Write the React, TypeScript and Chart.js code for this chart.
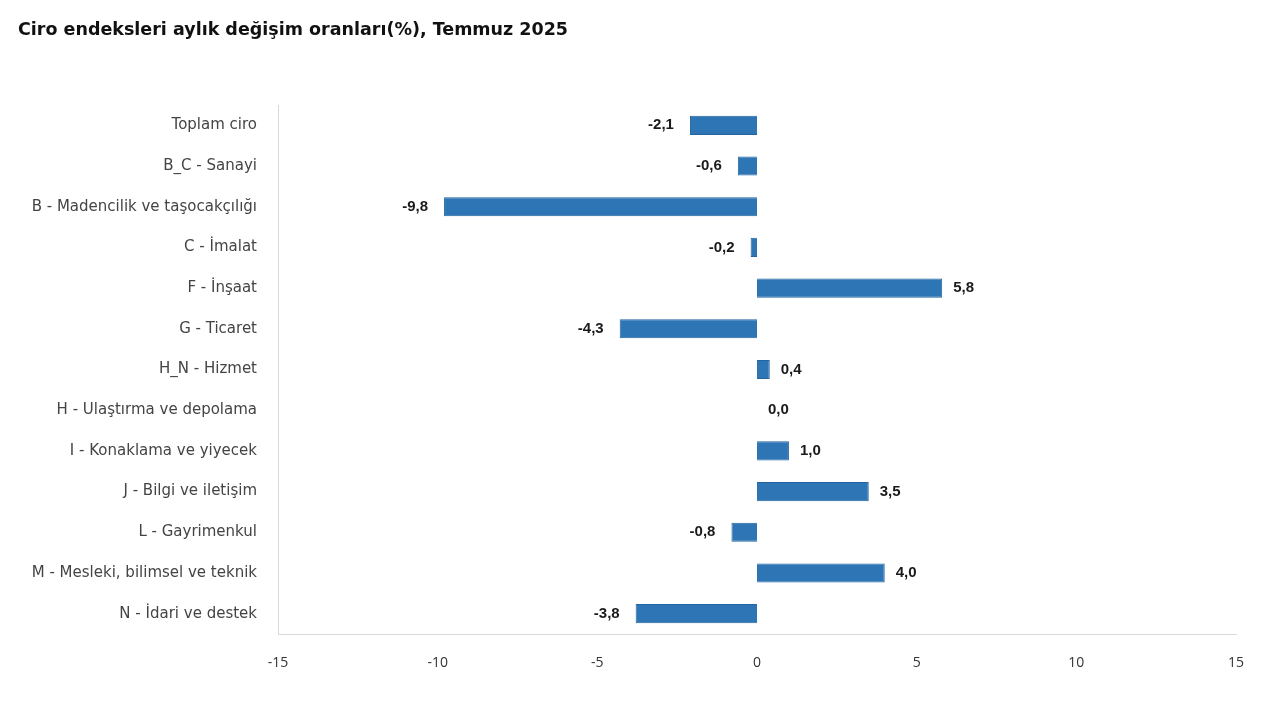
import React, { useEffect, useRef } from "react";
import { Chart, registerables } from "chart.js";

Chart.register(...registerables);

const TITLE = "Ciro endeksleri aylık değişim oranları(%), Temmuz 2025";

const categories = [
  "Toplam ciro",
  "B_C - Sanayi",
  "B - Madencilik ve taşocakçılığı",
  "C - İmalat",
  "F - İnşaat",
  "G - Ticaret",
  "H_N - Hizmet",
  "H - Ulaştırma ve depolama",
  "I - Konaklama ve yiyecek",
  "J - Bilgi ve iletişim",
  "L - Gayrimenkul",
  "M - Mesleki, bilimsel ve teknik",
  "N - İdari ve destek",
];

const values = [-2.1, -0.6, -9.8, -0.2, 5.8, -4.3, 0.4, 0.0, 1.0, 3.5, -0.8, 4.0, -3.8];

const xMin = -15;
const xMax = 15;
const xStep = 5;

const fmt = (v: number) => v.toFixed(1).replace(".", ",");

const valueLabels = {
  id: "valueLabels",
  afterDatasetsDraw(chart: any) {
    const ctx = chart.ctx;
    const meta = chart.getDatasetMeta(0);
    ctx.save();
    ctx.font = "bold 15px 'Liberation Sans', Arial, sans-serif";
    ctx.fillStyle = "#1a1a1a";
    ctx.textBaseline = "middle";
    meta.data.forEach((bar: any, i: number) => {
      const v = values[i];
      const xEnd = bar.x;
      if (v < 0) {
        ctx.textAlign = "right";
        ctx.fillText(fmt(v), xEnd - 16, bar.y);
      } else {
        ctx.textAlign = "left";
        ctx.fillText(fmt(v), xEnd + 11, bar.y);
      }
    });
    ctx.restore();
  },
};

export default function App() {
  const ref = useRef<HTMLCanvasElement | null>(null);
  useEffect(() => {
    if (!ref.current) return;
    const chart = new Chart(ref.current, {
      type: "bar",
      data: {
        labels: categories,
        datasets: [
          {
            data: values,
            backgroundColor: "#2E75B6",
            borderColor: "#23649F",
            borderWidth: 1,
            barPercentage: 0.47,
            categoryPercentage: 1,
          },
        ],
      },
      options: {
        indexAxis: "y",
        animation: false,
        responsive: false,
        maintainAspectRatio: false,
        layout: { padding: { top: 105, right: 44, left: 0, bottom: 0 } },
        plugins: {
          legend: { display: false },
          tooltip: { enabled: false },
        },
        scales: {
          x: {
            min: xMin,
            max: xMax,
            ticks: {
              stepSize: xStep,
              padding: 21,
              color: "#333333",
              font: { size: 14, family: "'Open Sans', 'DejaVu Sans', sans-serif" },
            },
            grid: { display: false, drawTicks: false },
            border: { display: true, color: "#d9d9d9", width: 1 },
            afterFit(scale: any) {
              scale.height = 75;
            },
          },
          y: {
            ticks: {
              padding: 21,
              color: "#444444",
              font: { size: 15, family: "'DejaVu Sans', sans-serif" },
            },
            grid: { display: false, drawTicks: false },
            border: { display: true, color: "#d9d9d9", width: 1 },
            afterFit(scale: any) {
              scale.width = 278;
            },
          },
        },
      },
      plugins: [valueLabels],
    });
    return () => chart.destroy();
  }, []);

  return (
    <div style={{ position: "fixed", left: 0, top: 0, width: 1280, height: 709, background: "#fff" }}>
      <div
        style={{
          position: "absolute",
          left: 18,
          top: 19,
          fontFamily: "'DejaVu Sans', sans-serif",
          fontWeight: 700,
          fontSize: 17.5,
          color: "#111111",
          whiteSpace: "nowrap",
        }}
      >
        {TITLE}
      </div>
      <canvas ref={ref} width={1280} height={709} style={{ display: "block" }} />
    </div>
  );
}
